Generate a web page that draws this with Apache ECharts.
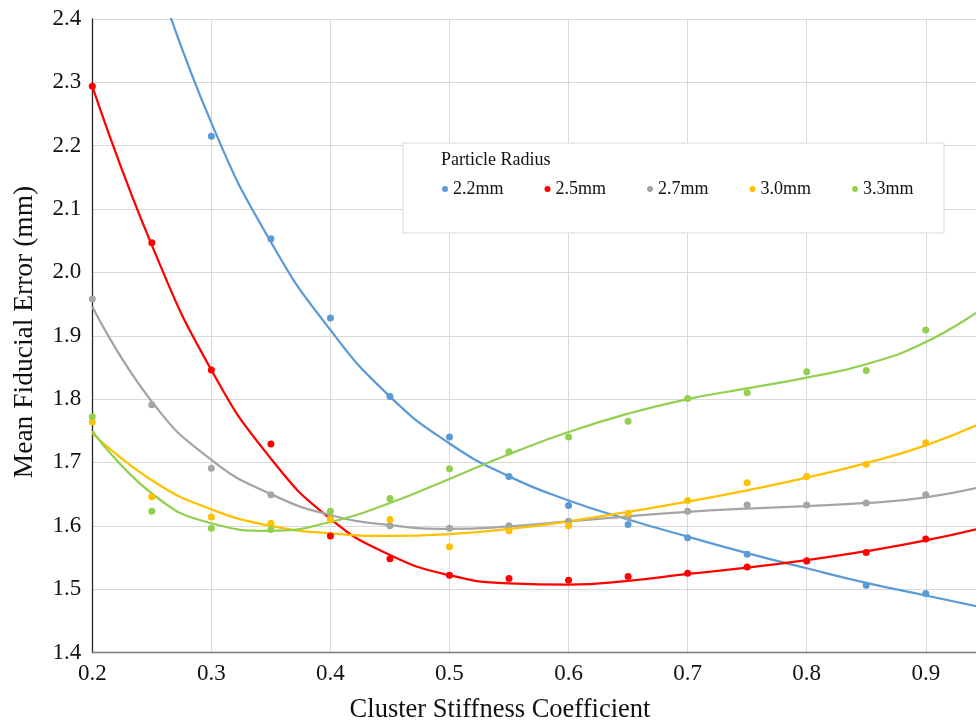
<!DOCTYPE html>
<html>
<head>
<meta charset="utf-8">
<script src="https://cdn.jsdelivr.net/npm/echarts@6/dist/echarts.min.js"></script>
<style>html,body{margin:0;padding:0;background:#fff}#c{width:976px;height:725px}</style>
</head>
<body>
<div id="c"></div>
<script>
// ---- data ----
const xPts = [0.2,0.25,0.3,0.35,0.4,0.45,0.5,0.55,0.6,0.65,0.7,0.75,0.8,0.85,0.9];
const r22 = [null,null,2.215,2.053,1.928,1.804,1.740,1.678,1.632,1.602,1.581,1.555,1.544,1.506,1.493];
const r25 = [2.294,2.047,1.846,1.729,1.584,1.548,1.522,1.517,1.514,1.520,1.525,1.535,1.545,1.558,1.579];
const r27 = [1.958,1.791,1.691,1.649,1.612,1.600,1.596,1.600,1.607,1.614,1.623,1.633,1.633,1.636,1.649];
const r30 = [1.764,1.646,1.614,1.604,1.610,1.610,1.567,1.592,1.600,1.620,1.640,1.668,1.678,1.697,1.731];
const r33 = [1.772,1.623,1.596,1.594,1.623,1.643,1.690,1.717,1.740,1.765,1.801,1.810,1.843,1.845,1.909];

// trend lines
const xTrend = [0.2,0.25,0.3,0.35,0.4,0.45,0.5,0.55,0.6,0.65,0.7,0.75,0.8,0.85,0.9,0.95];
const t22 = [null,2.49,2.236,2.048,1.909,1.804,1.730,1.678,1.640,1.610,1.583,1.557,1.533,1.510,1.490,1.470];
const t25 = [2.294,2.043,1.846,1.706,1.611,1.554,1.522,1.509,1.507,1.513,1.524,1.534,1.546,1.560,1.577,1.598];
const t27 = [1.946,1.796,1.704,1.650,1.617,1.601,1.595,1.599,1.607,1.615,1.622,1.627,1.631,1.636,1.645,1.663];
const t30 = [1.746,1.672,1.626,1.600,1.588,1.584,1.587,1.595,1.607,1.622,1.638,1.656,1.676,1.699,1.727,1.765];
const t33 = [1.750,1.651,1.604,1.592,1.606,1.636,1.674,1.713,1.748,1.777,1.800,1.817,1.834,1.855,1.890,1.946];

const names = ['2.2mm','2.5mm','2.7mm','3.0mm','3.3mm'];
const colors = ['#5B9BD5','#FF0000','#A5A5A5','#FFC000','#92D050'];
const yTicks = {min:1.4, max:2.4, interval:0.1};
const xTicks = {min:0.2, max:0.9422, interval:0.1};

const pts = [r22,r25,r27,r30,r33];
const trends = [t22,t25,t27,t30,t33];
const pair = (xs, ys) => xs.map((x,i)=> ys[i]==null ? null : [x, ys[i]]).filter(d=>d);

const FONT = 'Liberation Serif';
const series = [];
trends.forEach((t,i)=>{
  series.push({name:'trend '+names[i], type:'line', data:pair(xTrend,t), smooth:0.5, showSymbol:false,
    lineStyle:{color:colors[i], width:2.25}, itemStyle:{color:colors[i]}, z:2, silent:true, clip:true});
});
pts.forEach((p,i)=>{
  series.push({name:names[i], type:'scatter', data:pair(xPts,p), symbolSize:7,
    itemStyle:{color:colors[i], opacity:1}, z:3, clip:true});
});

const chart = echarts.init(document.getElementById('c'), null, {renderer:'canvas'});
chart.setOption({
  animation:false,
  backgroundColor:'#fff',
  grid:{left:92.3, top:19, right:0, bottom:72.5, containLabel:false},
  xAxis:{type:'value', min:xTicks.min, max:xTicks.max, interval:xTicks.interval,
    axisLine:{show:true, lineStyle:{color:'#7a7a7a', width:1.3}},
    axisTick:{show:false},
    axisLabel:{fontFamily:FONT, fontSize:23, color:'#111', margin:10, showMaxLabel:false, formatter:v=>v.toFixed(1)},
    splitLine:{show:true, lineStyle:{color:'#d9d9d9', width:1}}},
  yAxis:{type:'value', min:yTicks.min, max:yTicks.max, interval:yTicks.interval,
    axisLine:{show:true, lineStyle:{color:'#262626', width:1.3}},
    axisTick:{show:false},
    axisLabel:{fontFamily:FONT, fontSize:23, color:'#111', margin:11, formatter:v=>v.toFixed(1)},
    splitLine:{show:true, lineStyle:{color:'#d9d9d9', width:1}}},
  legend:{data:names, left:437, top:175, itemWidth:6, itemHeight:6, icon:'circle', itemGap:41,
    textStyle:{fontFamily:FONT, fontSize:18, color:'#111', padding:[0,0,0,0]}, z:12},
  graphic:{elements:[
    {type:'rect', z:10, shape:{x:403, y:143, width:541, height:90}, style:{fill:'#fff', stroke:'#d9d9d9', lineWidth:1}},
    {type:'text', z:11, left:441, top:151, style:{text:'Particle Radius', font:'18px "Liberation Serif"', fill:'#111'}},
    {type:'text', z:11, x:500, y:710, style:{text:'Cluster Stiffness Coefficient', font:'26.5px "Liberation Serif"', fill:'#111', textAlign:'center', textVerticalAlign:'middle'}},
    {type:'text', z:11, x:25, y:332, rotation:Math.PI/2, style:{text:'Mean Fiducial Error (mm)', font:'27.5px "Liberation Serif"', fill:'#111', textAlign:'center', textVerticalAlign:'middle'}}
  ]},
  series:series
});
</script>
</body>
</html>
